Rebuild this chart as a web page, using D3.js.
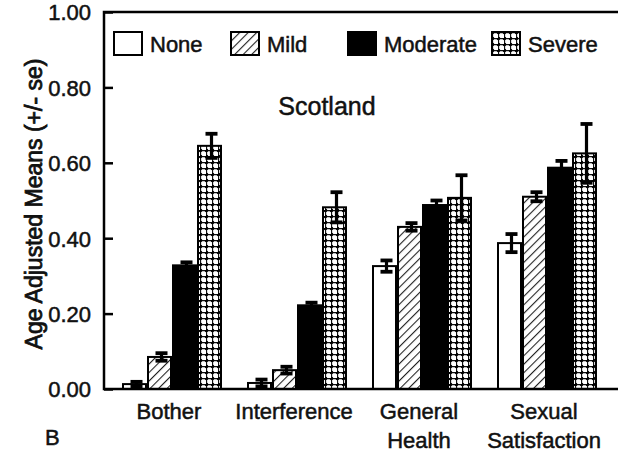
<!DOCTYPE html>
<html>
<head>
<meta charset="utf-8">
<script src="https://cdn.jsdelivr.net/npm/d3@7"></script>
<style>
  body { margin: 0; background: #fff; }
  text { font-family: "Liberation Sans", Arial, sans-serif; fill: #111; stroke: #111; stroke-width: 0.5px; }
</style>
</head>
<body>
<div id="chart"></div>
<script>
// data
const outcomes = ["Bother", "Interference", "General Health", "Sexual Satisfaction"];
const severities = ["None", "Mild", "Moderate", "Severe"];
const means = {
    None:     [0.013, 0.016, 0.326, 0.387],
    Mild:     [0.085, 0.050, 0.430, 0.510],
    Moderate: [0.328, 0.222, 0.488, 0.587],
    Severe:   [0.645, 0.482, 0.507, 0.625]
};
const ses = {
    None:     [0.006, 0.009, 0.015, 0.024],
    Mild:     [0.010, 0.009, 0.010, 0.012],
    Moderate: [0.008, 0.007, 0.012, 0.018],
    Severe:   [0.032, 0.040, 0.060, 0.078]
};
const yTicks = [0, 0.2, 0.4, 0.6, 0.8, 1.0];

const width = 618, height = 456;
const svg = d3.select("#chart").append("svg")
    .attr("width", width).attr("height", height);

// patterns
const defs = svg.append("defs");
const hatch = defs.append("pattern")
    .attr("id", "hatch").attr("patternUnits", "userSpaceOnUse")
    .attr("width", 6).attr("height", 6)
    .attr("patternTransform", "rotate(45)");
hatch.append("rect").attr("width", 6).attr("height", 6).attr("fill", "#fff");
hatch.append("line").attr("x1", 0).attr("y1", 0).attr("x2", 0).attr("y2", 6)
    .attr("stroke", "#222").attr("stroke-width", 2.2);

const dots = defs.append("pattern")
    .attr("id", "dots").attr("patternUnits", "userSpaceOnUse")
    .attr("width", 6).attr("height", 6);
dots.append("rect").attr("width", 6).attr("height", 6).attr("fill", "#fff");
dots.append("path").attr("d", "M0,0.5H6M0.5,0V6")
    .attr("stroke", "#111").attr("stroke-width", 1.3);
dots.append("circle").attr("cx", 0.5).attr("cy", 0.5).attr("r", 1.8).attr("fill", "#000");
dots.append("circle").attr("cx", 6.5).attr("cy", 0.5).attr("r", 1.8).attr("fill", "#000");
dots.append("circle").attr("cx", 0.5).attr("cy", 6.5).attr("r", 1.8).attr("fill", "#000");

const fills = { None: "#fff", Mild: "url(#hatch)", Moderate: "#000", Severe: "url(#dots)" };

// scales
const y = d3.scaleLinear().domain([0, 1]).range([389, 12]);
const x0 = d3.scaleBand().domain(outcomes)
    .range([109.5, 609.5]).paddingInner(0.2).paddingOuter(0.1);
const x1 = d3.scaleBand().domain(severities).range([0, x0.bandwidth()]);

const left = 104;

// bars
const groups = svg.selectAll(".group")
    .data(outcomes)
    .enter().append("g")
    .attr("class", "group")
    .attr("transform", d => `translate(${x0(d)},0)`);

groups.each(function(o, i) {
    const g = d3.select(this);
    severities.forEach(s => {
        const m = means[s][i], se = ses[s][i];
        const bx = x1(s), bw = x1.bandwidth();
        g.append("rect")
            .attr("x", bx + 1).attr("width", bw - 2)
            .attr("y", y(m)).attr("height", y(0) - y(m))
            .attr("fill", fills[s])
            .attr("stroke", "#000").attr("stroke-width", 2);
        // error bar
        const cx = bx + bw / 2 + 2;
        g.append("line")
            .attr("x1", cx).attr("x2", cx)
            .attr("y1", y(m + se)).attr("y2", y(Math.max(0, m - se)))
            .attr("stroke", "#000").attr("stroke-width", 3.2);
        [m + se, Math.max(0, m - se)].forEach(v => {
            g.append("line")
                .attr("x1", cx - 6).attr("x2", cx + 6)
                .attr("y1", y(v)).attr("y2", y(v))
                .attr("stroke", "#000").attr("stroke-width", 3.8);
        });
    });
});

// frame
svg.append("path")
    .attr("d", `M${width},${y(1)}H${left}V${y(0)}H${width}`)
    .attr("fill", "none").attr("stroke", "#000").attr("stroke-width", 2.5);

// y axis
const yAxis = svg.append("g")
    .attr("transform", `translate(${left},0)`)
    .call(d3.axisRight(y).tickValues(yTicks).tickFormat(d3.format(".2f"))
        .tickSize(9).tickPadding(0));
yAxis.select(".domain").remove();
yAxis.selectAll(".tick line").attr("stroke", "#000").attr("stroke-width", 2.5);
yAxis.selectAll(".tick text")
    .attr("x", -13).attr("text-anchor", "end").attr("dy", "0.36em")
    .attr("fill", "#111")
    .style("font-size", "22px").style("font-family", "'Liberation Sans', Arial, sans-serif");

svg.append("text")
    .attr("transform", `translate(42,204) rotate(-90)`)
    .attr("text-anchor", "middle")
    .style("font-size", "23px")
    .style("stroke-width", "0.8px")
    .text("Age Adjusted Means (+/- se)");

// x labels
const xLabels = svg.selectAll(".xlab")
    .data(outcomes)
    .enter().append("text")
    .attr("class", "xlab")
    .attr("text-anchor", "middle")
    .style("font-size", "22px")
    .attr("transform", d => `translate(${x0(d) + x0.bandwidth() / 2 - 3},419)`);
xLabels.each(function(d) {
    const words = d.split(" ");
    d3.select(this).selectAll("tspan")
        .data(words)
        .enter().append("tspan")
        .attr("x", 0)
        .attr("dy", (w, k) => k === 0 ? 0 : 29)
        .text(w => w);
});

// title
svg.append("text")
    .attr("x", 327).attr("y", 115)
    .attr("text-anchor", "middle")
    .style("font-size", "25px")
    .text("Scotland");

// legend
const legendX = [114, 231, 348, 492];
const legend = svg.selectAll(".leg")
    .data(severities)
    .enter().append("g")
    .attr("class", "leg")
    .attr("transform", (d, i) => `translate(${legendX[i]},32)`);
legend.append("rect")
    .attr("width", 28).attr("height", 23)
    .attr("fill", d => fills[d])
    .attr("stroke", "#000").attr("stroke-width", 2);
legend.append("text")
    .attr("x", 36).attr("y", 19.5)
    .style("font-size", "22px")
    .text(d => d);

// panel letter
svg.append("text")
    .attr("x", 45).attr("y", 445)
    .style("font-size", "22px")
    .text("B");
</script>
</body>
</html>
